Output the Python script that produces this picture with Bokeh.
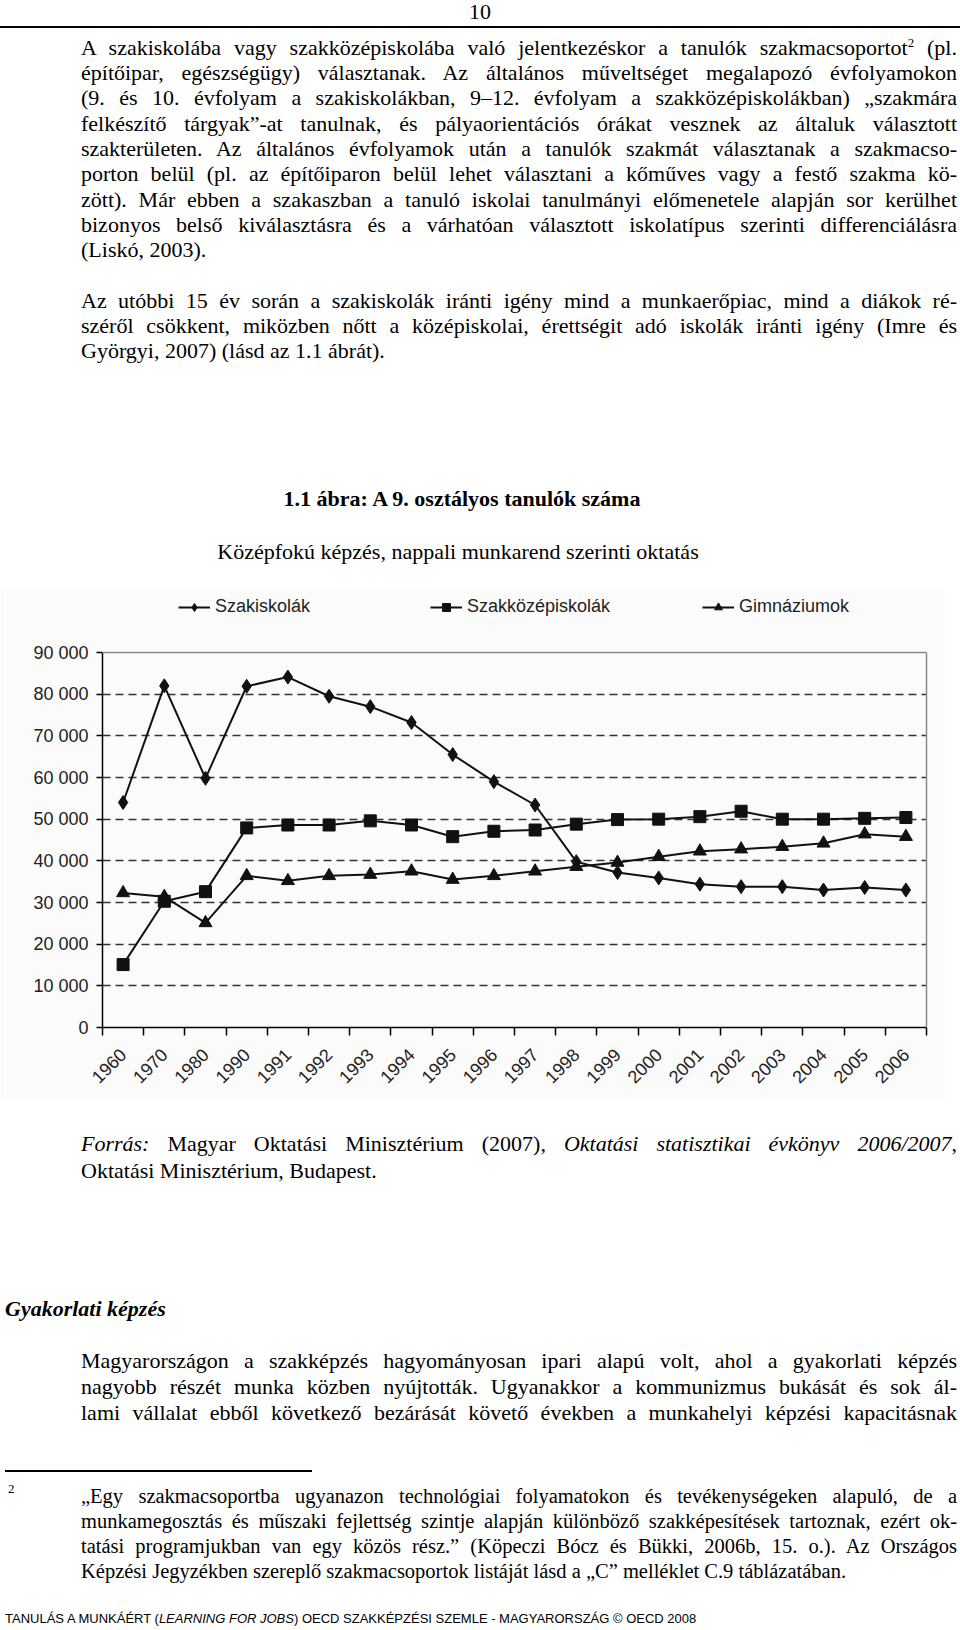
from math import pi
from bokeh.plotting import figure
from bokeh.models import (Div, Range1d, FixedTicker, Legend, LegendItem, ColumnDataSource,
                          LinearAxis, Span)
from bokeh.layouts import column
from bokeh.embed import file_html
from bokeh.resources import INLINE

# ---------------- data ----------------
years = ["1960", "1970", "1980", "1990", "1991", "1992", "1993", "1994", "1995", "1996",
         "1997", "1998", "1999", "2000", "2001", "2002", "2003", "2004", "2005", "2006"]
szakiskolak = [54000, 82000, 59800, 81900, 84100, 79500, 77000, 73200, 65500, 59000,
               53400, 39800, 37200, 35900, 34400, 33800, 33800, 33000, 33600, 33000]
szakkozepiskolak = [15100, 30300, 32600, 47900, 48600, 48600, 49600, 48600, 45800, 47100,
                    47400, 48800, 49900, 50000, 50600, 51900, 50000, 50000, 50200, 50400]
gimnaziumok = [32300, 31400, 25100, 36400, 35200, 36400, 36700, 37500, 35500, 36400,
               37500, 38600, 39600, 41000, 42300, 42800, 43400, 44200, 46400, 45800]
series_names = ["Szakiskolák", "Szakközépiskolák", "Gimnáziumok"]
y_ticks = [0, 10000, 20000, 30000, 40000, 50000, 60000, 70000, 80000, 90000]
y_tick_labels = ["0", "10 000", "20 000", "30 000", "40 000", "50 000",
                 "60 000", "70 000", "80 000", "90 000"]

chart_title = "1.1 ábra: A 9. osztályos tanulók száma"
chart_subtitle = "Középfokú képzés, nappali munkarend szerinti oktatás"

para1 = [
    "A szakiskolába vagy szakközépiskolába való jelentkezéskor a tanulók szakmacsoportot"
    "<span style=\"font-size:13px;vertical-align:8px;line-height:0\">2</span> (pl.",
    "építőipar, egészségügy) választanak. Az általános műveltséget megalapozó évfolyamokon",
    "(9. és 10. évfolyam a szakiskolákban, 9–12. évfolyam a szakközépiskolákban) „szakmára",
    "felkészítő tárgyak”-at tanulnak, és pályaorientációs órákat vesznek az általuk választott",
    "szakterületen. Az általános évfolyamok után a tanulók szakmát választanak a szakmacso-",
    "porton belül (pl. az építőiparon belül lehet választani a kőműves vagy a festő szakma kö-",
    "zött). Már ebben a szakaszban a tanuló iskolai tanulmányi előmenetele alapján sor kerülhet",
    "bizonyos belső kiválasztásra és a várhatóan választott iskolatípus szerinti differenciálásra",
    "(Liskó, 2003).",
]
para2 = [
    "Az utóbbi 15 év során a szakiskolák iránti igény mind a munkaerőpiac, mind a diákok ré-",
    "széről csökkent, miközben nőtt a középiskolai, érettségit adó iskolák iránti igény (Imre és",
    "Györgyi, 2007) (lásd az 1.1 ábrát).",
]
source_lines = [
    "<i>Forrás:</i> Magyar Oktatási Minisztérium (2007), <i>Oktatási statisztikai évkönyv 2006/2007</i>,",
    "Oktatási Minisztérium, Budapest.",
]
section_title = "Gyakorlati képzés"
para3 = [
    "Magyarországon a szakképzés hagyományosan ipari alapú volt, ahol a gyakorlati képzés",
    "nagyobb részét munka közben nyújtották. Ugyanakkor a kommunizmus bukását és sok ál-",
    "lami vállalat ebből következő bezárását követő években a munkahelyi képzési kapacitásnak",
]
footnote = [
    "„Egy szakmacsoportba ugyanazon technológiai folyamatokon és tevékenységeken alapuló, de a",
    "munkamegosztás és műszaki fejlettség szintje alapján különböző szakképesítések tartoznak, ezért ok-",
    "tatási programjukban van egy közös rész.” (Köpeczi Bócz és Bükki, 2006b, 15. o.). Az Országos",
    "Képzési Jegyzékben szereplő szakmacsoportok listáját lásd a „C” melléklet C.9 táblázatában.",
]
footer = "TANULÁS A MUNKÁÉRT (<i>LEARNING FOR JOBS</i>) OECD SZAKKÉPZÉSI SZEMLE - MAGYARORSZÁG © OECD 2008"

SERIF = "'Liberation Serif','Times New Roman',serif"
SANS = "'Liberation Sans',Arial,sans-serif"


def tline(html, left, yc, width, size=22.0, lh=26, justify=True, weight="normal",
          fstyle="normal", family=SERIF, align="left", color="#000"):
    top = yc - lh / 2 - 0.06 * size
    al = "text-align:justify;text-align-last:justify;" if justify else f"text-align:{align};"
    return (f'<div style="position:absolute;left:{left}px;top:{top:.1f}px;width:{width}px;'
            f'height:{lh}px;line-height:{lh}px;font-size:{size}px;font-family:{family};'
            f'font-weight:{weight};font-style:{fstyle};color:{color};white-space:nowrap;{al}">'
            f'{html}</div>')


def hrule(left, y, width, th=1.5):
    return (f'<div style="position:absolute;left:{left}px;top:{y - th / 2:.1f}px;width:{width}px;'
            f'height:{th}px;background-color:#000"></div>')


# ---------------- top block (page y 0 .. 590) ----------------
LS = 25.3
parts = []
parts.append(tline("10", 0, 13, 960, size=22, lh=24, justify=False, align="center"))
parts.append(hrule(0, 27, 960, 1.5))
for k, t in enumerate(para1):
    parts.append(tline(t, 81, 49 + k * LS, 876, justify=(k < len(para1) - 1)))
for k, t in enumerate(para2):
    parts.append(tline(t, 81, 49 + (k + 10) * LS, 876, justify=(k < len(para2) - 1)))
parts.append(tline(chart_title, 462 - 300, 500, 600, justify=False, align="center",
                   weight="bold"))
parts.append(tline(chart_subtitle, 458 - 300, 553, 600, justify=False, align="center"))
top_html = ('<div style="position:relative;width:960px;height:590px;">' + "".join(parts) + "</div>")
div_top = Div(text=top_html, width=960, height=590, margin=(0, 0, 0, 0))

# ---------------- chart (page y 590 .. 1100) ----------------
# plot frame spans page y 594..1027; the 0..90 000 part spans 652..1027 (375 px)
FIG_H, MB_TOP, MB_BOT = 510, 4, 73
frame_h = FIG_H - MB_TOP - MB_BOT
y_top = y_ticks[-1] * frame_h / 375.0

xs = [i + 0.5 for i in range(len(years))]
src = ColumnDataSource(dict(x=xs, s1=szakiskolak, s2=szakkozepiskolak, s3=gimnaziumok))

p = figure(width=945, height=FIG_H, output_backend="svg", toolbar_location=None,
           x_range=Range1d(0, len(years)), y_range=Range1d(0, y_top),
           min_border_left=102, min_border_right=19, min_border_top=MB_TOP,
           min_border_bottom=MB_BOT, margin=(0, 0, 0, 0))
p.border_fill_color = "#fbfbfb"
p.background_fill_color = "#fbfbfb"
p.outline_line_color = None

frame_grey = "#8a8a8a"
# top edge of the plot box at 90 000 and right edge (axis without ticks)
p.add_layout(Span(location=y_ticks[-1], dimension="width", line_color=frame_grey,
                  line_width=1.5))
right_axis = LinearAxis(bounds=(y_ticks[0], y_ticks[-1]), ticker=FixedTicker(ticks=[]),
                        major_tick_line_color=None, minor_tick_line_color=None,
                        major_tick_out=0, major_label_standoff=0,
                        major_label_text_font_size="0px",
                        axis_line_color=frame_grey, axis_line_width=1.5)
p.add_layout(right_axis, "right")

# x axis: labels at category centres, tick marks at category boundaries
p.xaxis.ticker = FixedTicker(ticks=xs, minor_ticks=list(range(len(years) + 1)))
p.xaxis.major_label_overrides = {x: y for x, y in zip(xs, years)}
p.xaxis.major_tick_line_color = None
p.xaxis.minor_tick_line_color = "#000"
p.xaxis.minor_tick_line_width = 1.5
p.xaxis.minor_tick_in = 0
p.xaxis.minor_tick_out = 8
p.xaxis.major_label_orientation = pi / 4
p.xaxis.major_label_standoff = 16
p.xaxis.major_label_text_font = "Liberation Sans"
p.xaxis.major_label_text_font_size = "18px"
p.xaxis.major_label_text_color = "#222"
p.xaxis.axis_line_color = "#000"
p.xaxis.axis_line_width = 1.5

yax = p.yaxis[0]
yax.bounds = (y_ticks[0], y_ticks[-1])
yax.ticker = FixedTicker(ticks=y_ticks)
yax.major_label_overrides = {t: l for t, l in zip(y_ticks, y_tick_labels)}
yax.major_tick_out = 6
yax.major_tick_in = 0
yax.major_tick_line_color = "#000"
yax.major_tick_line_width = 1.5
yax.minor_tick_line_color = None
yax.major_label_standoff = 8
yax.major_label_text_font = "Liberation Sans"
yax.major_label_text_font_size = "18px"
yax.major_label_text_color = "#222"
yax.axis_line_color = "#000"
yax.axis_line_width = 1.5

p.xgrid.visible = False
p.ygrid.ticker = FixedTicker(ticks=y_ticks[1:-1])
p.ygrid.grid_line_color = "#333"
p.ygrid.grid_line_width = 1.4
p.ygrid.grid_line_dash = "8 5"

ink = "#111"
l1 = p.line("x", "s1", source=src, line_color=ink, line_width=2)
m1 = p.scatter("x", "s1", source=src, marker="diamond", size=14,
               fill_color=ink, line_color=ink)
l2 = p.line("x", "s2", source=src, line_color=ink, line_width=2)
m2 = p.scatter("x", "s2", source=src, marker="square", size=12, fill_color=ink, line_color=ink)
l3 = p.line("x", "s3", source=src, line_color=ink, line_width=2)
m3 = p.scatter("x", "s3", source=src, marker="triangle", size=13, fill_color=ink, line_color=ink)

legend = Legend(items=[LegendItem(label=series_names[0], renderers=[l1, m1]),
                       LegendItem(label=series_names[1], renderers=[l2, m2]),
                       LegendItem(label=series_names[2], renderers=[l3, m3])],
                orientation="horizontal", location=(76, 410),
                padding=0, margin=0, spacing=92, label_width=123, glyph_width=32,
                glyph_height=20, label_standoff=5, border_line_color=None,
                background_fill_alpha=0, label_text_font="Liberation Sans",
                label_text_font_size="18px", label_text_color="#222")
p.add_layout(legend, "center")

# ---------------- bottom block (page y 1100 .. 1630) ----------------
BY = 1100
parts = []
parts.append(tline(source_lines[0], 81, 1145 - BY, 876, justify=True))
parts.append(tline(source_lines[1], 81, 1172 - BY, 876, justify=False))
parts.append(tline(section_title, 5, 1310 - BY, 400, justify=False, weight="bold", fstyle="italic"))
for k, t in enumerate(para3):
    parts.append(tline(t, 81, 1362 + k * 26 - BY, 876, justify=True))
parts.append(hrule(5, 1471 - BY, 307, 1.3))
parts.append(tline("2", 8, 1490 - BY, 20, size=13, lh=16, justify=False))
for k, t in enumerate(footnote):
    parts.append(tline(t, 81, 1498 + k * 25 - BY, 876, size=20.5, lh=25,
                       justify=(k < len(footnote) - 1)))
parts.append(tline(footer, 5, 1620 - BY, 900, size=13, lh=16, justify=False, family=SANS))
bottom_html = ('<div style="position:relative;width:960px;height:530px;">' + "".join(parts) + "</div>")
div_bottom = Div(text=bottom_html, width=960, height=530, margin=(0, 0, 0, 0))

layout = column(div_top, p, div_bottom, spacing=0)

open("out.html", "w").write(file_html(layout, INLINE))
